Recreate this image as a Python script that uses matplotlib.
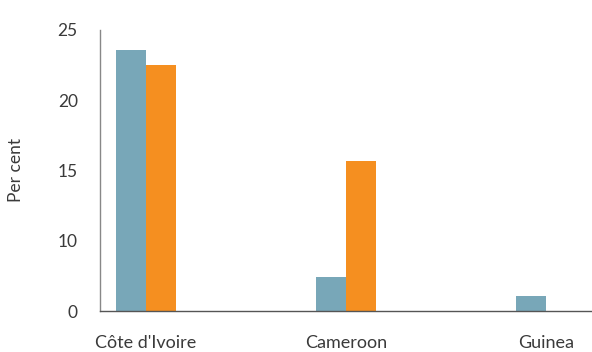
import numpy as np
import matplotlib.pyplot as plt

# ==============================
# Data
# ==============================
countries = ["Côte d'Ivoire", "Cameroon", "Guinea"]
series_a = [23.6, 7.4, 6.1]          # blue-grey bars
series_b = [22.5, 15.7, np.nan]      # orange bars (no bar for Guinea)
y_ticks = [5, 10, 15, 20, 25]
y_tick_labels = ["0", "10", "15", "20", "25"]

BLUE = "#78a7b8"
ORANGE = "#f58f20"
TEXT = "#3a3a3a"

plt.rcParams.update({
    "font.family": ["Lato", "DejaVu Sans"],
    "text.color": TEXT,
    "xtick.color": TEXT,
    "ytick.color": TEXT,
})

fig = plt.figure(figsize=(5.92, 3.52), dpi=100)
ax = fig.add_axes([100 / 592, 1 - 311 / 352, 492 / 592, 281 / 352])

x = np.arange(len(countries))
w = 0.152
ax.bar(x - w / 2, series_a, width=w, color=BLUE, linewidth=0)
ax.bar(x + w / 2, series_b, width=w, color=ORANGE, linewidth=0)

ax.set_xlim(-0.23, 2.23)
ax.set_ylim(5, 25)
ax.set_yticks(y_ticks)
ax.set_yticklabels(y_tick_labels, fontsize=12.5)
ax.set_xticks(x)
ax.set_xticklabels(countries, fontsize=13)
ax.tick_params(axis="y", length=0, pad=16)
ax.tick_params(axis="x", length=0, pad=17)

ax.set_ylabel("Per cent", fontsize=12.5, color=TEXT)
ax.yaxis.set_label_coords(-0.155, 0.5)

for s in ["top", "right"]:
    ax.spines[s].set_visible(False)
ax.spines["left"].set_color("#888888")
ax.spines["left"].set_linewidth(1.0)
ax.spines["bottom"].set_color("#555555")
ax.spines["bottom"].set_linewidth(1.0)

fig.savefig("out.png", dpi=100)
